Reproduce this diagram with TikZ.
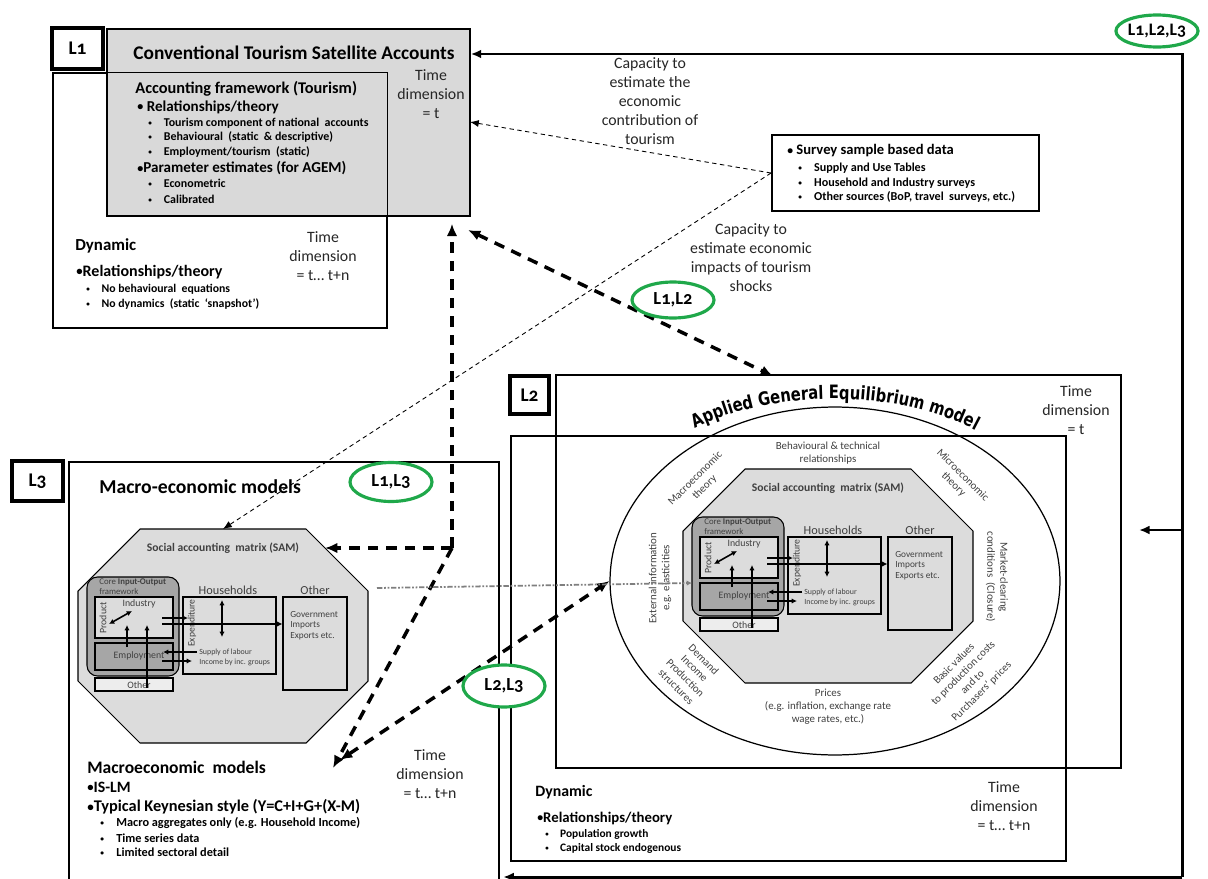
\documentclass[tikz,border=0pt]{standalone}
\usepackage{fontspec}
\usepackage{graphicx}
\setmainfont{Carlito}
\newfontfamily\osf[Numbers=OldStyle]{Carlito}
\newfontfamily\agefont[FakeStretch=0.8]{DejaVu Sans}
\usetikzlibrary{arrows.meta,shapes.geometric,decorations.text,fit,calc}
\newcommand{\myfs}[2]{\fontsize{#1}{#2}\selectfont}
\newcommand{\agefmt}{\agefont\bfseries\fontsize{10.5}{12}\selectfont}
\newcommand{\bul}{\raisebox{0.05ex}{\scalebox{0.8}{\textbullet}}}
\newcommand{\sbul}{\raisebox{0.15ex}{\scalebox{0.6}{\textbullet}}}
\definecolor{tsagray}{HTML}{D9D9D9}
\definecolor{samgray}{HTML}{DCDCDC}
\definecolor{coregray}{HTML}{A6A6A6}
\definecolor{othgray}{HTML}{EDEDED}
\definecolor{lgreen}{HTML}{1FA84A}
\definecolor{txtgray}{HTML}{404040}
\definecolor{dotgray}{HTML}{7F7F7F}

\newcommand{\samblock}[1]{%
  \draw[fill=samgray, line width=0.6pt] (140,529) -- (306,529) -- (368,591) -- (368,681) -- (306,743) -- (140,743) -- (78,681) -- (78,591) -- cycle;
  \coordinate (#1top) at (223,529);
  \coordinate (#1ne) at (325,548);
  \node[font=\bfseries\myfs{6.6}{8}, text=txtgray] (#1title) at (223,548) {Social accounting~ matrix (SAM)};
  \node[fitbox, fill=coregray, rounded corners=6pt, fit={(87,577) (179,676)}] (#1core) {};
  \node[tl, font=\myfs{5}{6}, text=txtgray] (#1coreA) at (99,582) {Core \textbf{Input-Output}};
  \node[tl, font=\myfs{5}{6}, text=txtgray] (#1coreB) at (99,591) {framework};
  \node[fitbox, fill=samgray, fit={(95,597) (173,638)}] (#1ind) {};
  \node[fitbox, fill=coregray, fit={(95,643) (173,670)}] (#1emp) {};
  \node[fitbox, fill=othgray, fit={(95,678) (173,691)}] (#1othA) {};
  \node[fitbox, fit={(183,597) (276,674)}] (#1hh) {};
  \node[fitbox, fit={(283,597) (347,690)}] (#1oth) {};
  \node[font=\myfs{5.6}{6}, text=txtgray] (#1indt) at (139,604) {Industry};
  \node[font=\myfs{5.6}{6}, text=txtgray, rotate=90] (#1prod) at (103,618) {Product};
  \node[font=\myfs{5.6}{6}, text=txtgray] (#1empt) at (139,656) {Employment};
  \node[font=\myfs{5.6}{6}, text=txtgray] (#1othAt) at (139,685) {Other};
  \node[font=\myfs{7}{8}, text=txtgray] (#1hht) at (228,590) {Households};
  \node[font=\myfs{7}{8}, text=txtgray] (#1otht) at (315,590) {Other};
  \node[font=\myfs{5.5}{6}, text=txtgray, rotate=90] (#1exp) at (192,623) {Expenditure};
  \node[anchor=north west, inner sep=0pt, align=left, font=\myfs{5.3}{6}, text=txtgray] (#1gov) at (290,611) {Government\\Imports\\Exports etc.};
  \node[tl, font=\myfs{4.5}{5}, text=txtgray] (#1sup) at (199,652) {Supply of labour};
  \node[tl, font=\myfs{4.5}{5}, text=txtgray] (#1inc) at (199,662) {Income by inc. groups};
  \coordinate (#1d1) at (109,624); \coordinate (#1d2) at (132,611);
  \draw[sdarr] (#1d1) -- (#1d2);
  \coordinate (#1u1) at (127,647); \coordinate (#1u2) at (127,625);
  \draw[sarr] (#1u1) -- (#1u2);
  \coordinate (#1v1) at (147,688); \coordinate (#1v2) at (147,625);
  \draw[sarr] (#1v1) -- (#1v2);
  \coordinate (#1h1) at (162,618); \coordinate (#1h2) at (188,618);
  \draw[sarr] (#1h1) -- (#1h2);
  \coordinate (#1g1) at (162,624);
  \draw[sarr] (#1g1) -- (#1g1 -| #1oth.west);
  \coordinate (#1s1) at (197,652); \coordinate (#1s2) at (163,652);
  \draw[sarr] (#1s1) -- (#1s2);
  \coordinate (#1i1) at (162,661); \coordinate (#1i2) at (192,661);
  \draw[sarr] (#1i1) -- (#1i2);
  \coordinate (#1w1) at (222,600); \coordinate (#1w2) at (222,637);
  \draw[sdarr] (#1w1) -- (#1w2);
}

\begin{document}
\begin{tikzpicture}[x=0.02cm, y=-0.02cm,
  fitbox/.style={draw, line width=0.6pt, inner sep=0pt},
  tl/.style={anchor=west, inner sep=0pt},
  tc/.style={inner sep=0pt, align=center},
  lbox/.style={draw, line width=2.2pt, inner sep=0pt, fill=white},
  lboxt/.style={inner sep=0pt, font=\osf\bfseries\myfs{11}{12}},
  gl/.style={ellipse, draw=lgreen, fill=white, line width=1.8pt, inner sep=0pt, font=\osf\bfseries\myfs{10.5}{12}},
  sarr/.style={line width=0.9pt, -{Latex[length=3pt,width=3pt]}},
  sdarr/.style={line width=0.9pt, {Latex[length=3pt,width=3pt]}-{Latex[length=3pt,width=3pt]}},
  looparr/.style={line width=1.7pt, -{Latex[length=6pt,width=5pt]}},
  bigdash/.style={line width=2pt, dash pattern=on 6pt off 4.5pt},
  cdash/.style={line width=0.5pt, dash pattern=on 2.5pt off 2pt, -{Latex[length=5pt,width=4pt]}},
  tdim/.style={inner sep=0pt, align=center, font=\myfs{9}{10.8}, text=black!85},
  elab/.style={inner sep=0pt, align=center, font=\myfs{6.2}{7.4}, text=txtgray}
]
\useasboundingbox (0,0) rectangle (1208,879);
\fill[white] (0,0) rectangle (1208,879);

% ---------------- L1 ----------------
\node[fitbox, fill=white, line width=0.8pt, fit={(53,73) (387,328)}] (l1box) {};
\node[fitbox, fill=tsagray, line width=0.8pt, fit={(107,29) (470,216)}] (tsa) {};
\draw[line width=0.8pt] (l1box.north west) rectangle (l1box.south east);
\node[lbox, fit={(52,28) (103,69)}] (l1lab) {};
\node[lboxt] (l1labt) at (l1lab.center) {L1};

\node[font=\bfseries\myfs{11}{13}] (tsat) at (294,53) {Conventional Tourism Satellite Accounts};
\node[tl, font=\bfseries\myfs{9.3}{11}] (acc) at (135,89) {Accounting framework (Tourism)};
\node[tl, font=\bfseries\myfs{8.6}{10}] (rel1) at (137,107) {\bul\ Relationships/theory};
\node[tl, font=\bfseries\myfs{6.8}{8}] (s1) at (148,123) {\sbul\hspace{1em}Tourism component of national~ accounts};
\node[tl, font=\bfseries\myfs{6.8}{8}] (s2) at (148,137) {\sbul\hspace{1em}Behavioural~ (static~ \& descriptive)};
\node[tl, font=\bfseries\myfs{6.8}{8}] (s3) at (148,152) {\sbul\hspace{1em}Employment/tourism~ (static)};
\node[tl, font=\bfseries\myfs{8.6}{10}] (par) at (137,168) {\bul Parameter estimates (for AGEM)};
\node[tl, font=\bfseries\myfs{6.8}{8}] (s4) at (148,183) {\sbul\hspace{1em}Econometric};
\node[tl, font=\bfseries\myfs{6.8}{8}] (s5) at (148,199) {\sbul\hspace{1em}Calibrated};
\node[tdim] (td1) at (431,94) {Time\\dimension\\= t};

\node[tl, font=\bfseries\myfs{9.6}{11}] (dyn1) at (75,246) {Dynamic};
\node[tl, font=\bfseries\myfs{9.1}{11}] (rel2) at (76,272) {\bul Relationships/theory};
\node[tl, font=\bfseries\myfs{6.7}{8}] (nb1) at (86,289) {\sbul\hspace{1em}No behavioural~ equations};
\node[tl, font=\bfseries\myfs{6.7}{8}] (nb2) at (86,304) {\sbul\hspace{1em}No dynamics~ (static~ `snapshot')};
\node[tdim] (td2) at (323,256) {Time\\dimension\\= t… t+n};

% ---------------- survey ----------------
\node[fitbox, line width=1.1pt, fit={(772,135) (1039,211)}] (survey) {};
\node[tl, font=\bfseries\myfs{8.3}{10}] (sv0) at (787,151) {\bul\ Survey sample based data};
\node[tl, font=\bfseries\myfs{6.9}{8}] (sv1) at (798,168) {\sbul\hspace{1em}Supply and Use Tables};
\node[tl, font=\bfseries\myfs{6.9}{8}] (sv2) at (798,183) {\sbul\hspace{1em}Household and Industry surveys};
\node[tl, font=\bfseries\myfs{6.9}{8}] (sv3) at (798,197) {\sbul\hspace{1em}Other sources (BoP, travel~ surveys, etc.)};

\node[tdim] (cap1) at (650,101) {Capacity to\\estimate the\\economic\\contribution of\\tourism};
\node[tdim] (cap2) at (751,258) {Capacity to\\estimate economic\\impacts of tourism\\shocks};

% ---------------- L3 ----------------
\node[fitbox, line width=0.8pt, fit={(69,462) (499,886)}] (l3box) {};
\node[lbox, fit={(12,461) (63,501)}] (l3lab) {};
\node[lboxt] (l3labt) at (l3lab.center) {L3};
\node[tl, font=\bfseries\myfs{11.2}{13}] (macro) at (99,487) {Macro-economic models};
\samblock{sa}
\node[tl, font=\bfseries\myfs{10}{12}] (mm) at (87,767) {Macroeconomic~ models};
\node[tl, font=\bfseries\myfs{9}{11}] (islm) at (87,787) {\bul IS-LM};
\node[tl, font=\bfseries\myfs{9.3}{11}] (keyn) at (87,807) {\bul Typical Keynesian style (Y=C+I+G+(X-M)};
\node[tl, font=\bfseries\myfs{7}{8}] (mb1) at (100,823) {\sbul\hspace{1em}Macro aggregates only (e.g. Household Income)};
\node[tl, font=\bfseries\myfs{7}{8}] (mb2) at (100,838) {\sbul\hspace{1em}Time series data};
\node[tl, font=\bfseries\myfs{7}{8}] (mb3) at (100,852) {\sbul\hspace{1em}Limited sectoral detail};
\node[tdim] (td3) at (430,774) {Time\\dimension\\= t… t+n};

% ---------------- L2 ----------------
\node[fitbox, line width=0.8pt, fit={(511,436) (1066,861)}] (dynbox) {};
\node[fitbox, line width=0.8pt, fit={(556,375) (1121,768)}] (agebox) {};
\node[lbox, fit={(510,376) (549,414)}] (l2lab) {};
\node[lboxt] (l2labt) at (l2lab.center) {L2};
\node[ellipse, draw, line width=0.7pt, minimum width=9cm, minimum height=6.96cm, inner sep=0pt] (age) at (835,581) {};
\begin{scope}[shift={(605,-60)}]
\samblock{sb}
\end{scope}
\path[decorate, decoration={text along path, text={|\agefmt|Applied General Equilibrium model}, text align=center}] (685,434) .. controls (765,387) and (905,387) .. (985,436);

\node[elab] (beh) at (828,453) {Behavioural \& technical\\relationships};
\node[elab, rotate=45] (mact) at (700,483) {Macroeconomic\\theory};
\node[elab, rotate=-45] (mict) at (958,480) {Microeconomic\\theory};
\node[elab, rotate=-90] (mkt) at (997,577) {Market-clearing\\conditions~ (Closure)};
\node[elab, rotate=45] (basic) at (968,678) {Basic values\\to production costs\\and to\\Purchasers’ prices};
\node[elab] (prices) at (828,707) {Prices\\(e.g. inflation, exchange rate\\wage rates, etc.)};
\node[elab, rotate=-45] (demand) at (690,673) {Demand\\Income\\Production\\structures};
\node[elab, rotate=90] (ext) at (660,578) {External information\\e.g. elasticities};

\node[tdim] (td4) at (1076,410) {Time\\dimension\\= t};
\node[tdim] (td5) at (1004,806) {Time\\dimension\\= t… t+n};
\node[tl, font=\bfseries\myfs{9}{11}] (dyn2) at (535,792) {Dynamic};
\node[tl, font=\bfseries\myfs{8.4}{10}] (rel3) at (537,818) {\bul Relationships/theory};
\node[tl, font=\bfseries\myfs{6.5}{8}] (pg) at (545,834) {\sbul\hspace{1em}Population growth};
\node[tl, font=\bfseries\myfs{6.5}{8}] (cs) at (545,848) {\sbul\hspace{1em}Capital stock endogenous};

% ---------------- connectors ----------------
\coordinate (loopTop) at (1182,54);
\coordinate (loopBot) at (1182,877);
\coordinate (loopMid) at (1182,530);
\coordinate (midTip) at (1139,530);
\draw[looparr] (loopBot) -- (loopTop) -- (tsa.east |- loopTop);
\draw[looparr, shorten >=2pt] (loopBot) -- (l3box.east |- loopBot);
\draw[looparr] (loopMid) -- (midTip);

\coordinate (j13) at (452,548);
\coordinate (m13) at (333,768);
\coordinate (m23) at (340,760);
\coordinate (l12a) at (468,230);
\coordinate (l12b) at (773,376);
\draw[bigdash, -{Latex[length=7pt,width=6pt]}, shorten >=4pt] (j13) -- (tsa.south -| j13);
\draw[bigdash, -{Latex[length=7pt,width=6pt]}] (j13) -- (sane);
\draw[bigdash, -{Latex[length=7pt,width=6pt]}] (j13) -- (m13);
\draw[bigdash, {Latex[length=7pt,width=6pt]}-{Latex[length=7pt,width=6pt]}] (m23) -- (age.west);
\draw[bigdash, {Latex[length=7pt,width=6pt]}-{Latex[length=7pt,width=6pt]}] (l12a) -- (l12b);

\coordinate (c1) at (470,122);
\draw[cdash] (survey.west) -- (c1);
\draw[cdash] (survey.west) -- (satop);

\coordinate (dotS) at (377,588);
\coordinate (dotE) at (692,583);
\draw[dotgray, line width=1pt, dash pattern=on 3pt off 1pt on 1pt off 1pt on 1pt off 1pt, -{Latex[length=3pt,width=3pt]}] (dotS) -- (dotE);

% ---------------- green labels ----------------
\node[gl, minimum width=1.6cm, minimum height=0.64cm, font=\osf\bfseries\myfs{10}{12}] (g123) at (1157,31) {L1,L2,L3};
\node[gl, minimum width=1.64cm, minimum height=0.72cm] (g12) at (673,300) {L1,L2};
\node[gl, minimum width=1.64cm, minimum height=0.78cm] (g13) at (391,482) {L1,L3};
\node[gl, minimum width=1.64cm, minimum height=0.84cm] (g23) at (504,686) {L2,L3};
\end{tikzpicture}
\end{document}
